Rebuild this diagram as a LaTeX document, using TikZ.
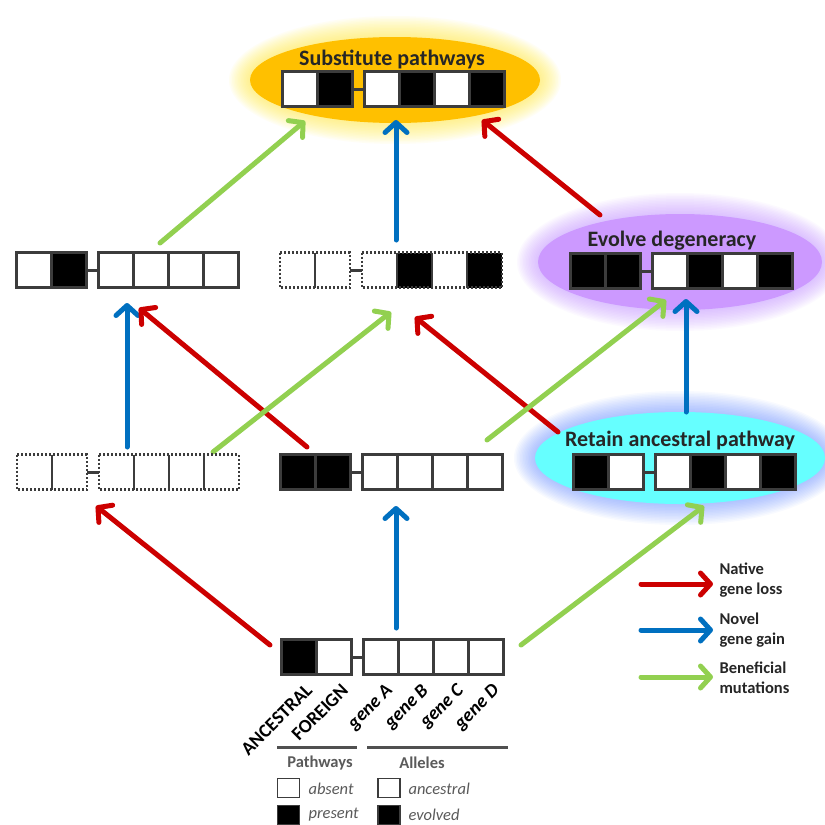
\documentclass[tikz,border=0pt]{standalone}
\usepackage{fontspec}
\setmainfont{Carlito}
\usetikzlibrary{arrows.meta,shapes.geometric}
\definecolor{boxgray}{RGB}{60,60,60}
\definecolor{redA}{RGB}{204,0,0}
\definecolor{blueA}{RGB}{0,112,192}
\definecolor{greenA}{RGB}{146,208,80}
\definecolor{orangeE}{RGB}{255,192,0}
\definecolor{glowY}{RGB}{255,240,80}
\definecolor{purpleE}{RGB}{204,153,255}
\definecolor{glowP}{RGB}{200,150,255}
\definecolor{cyanE}{RGB}{102,255,255}
\definecolor{glowB}{RGB}{100,140,255}
\definecolor{legtext}{RGB}{90,90,90}
\newcommand{\pwsolid}[4]{%
  \foreach \f [count=\i] in {#4}{%
    \pgfmathsetmacro{\cx}{#2+17.5+35*(\i-1)+12*(\i>2)}%
    \node[cell,draw=boxgray,fill=\f] (#1\i) at (\cx,#3) {};
  }
  \draw[link] (#12.east) -- (#13.west);
}
\newcommand{\pwdotted}[4]{%
  \foreach \f [count=\i] in {#4}{%
    \pgfmathsetmacro{\cx}{#2+17.5+35*(\i-1)+12*(\i>2)}%
    \node[cell,fill=\f] (#1\i) at (\cx,#3) {};
  }
  \draw[dotl] (#11.north west) rectangle (#12.south east);
  \draw[dotl] (#13.north west) rectangle (#16.south east);
  \foreach \j in {1,3,4,5} \draw[divl] (#1\j.north east) -- (#1\j.south east);
  \draw[link] (#12.east) -- (#13.west);
}
\newcommand{\glowell}[6]{%
  \foreach \k in {1,...,14}{%
    \fill[#5,opacity=#6] (#1,#2) ellipse ({#3+1.5*\k} and {#4+1.5*\k});
  }
}
\begin{document}
\begin{tikzpicture}[x=1pt,y=-1pt,
  cell/.style={minimum size=35pt,inner sep=0pt,outer sep=0pt,line width=3pt},
  link/.style={line width=3pt,draw=boxgray},
  dotl/.style={line width=2.5pt,draw=boxgray,dash pattern=on 2pt off 2pt},
  divl/.style={line width=2.5pt,draw=boxgray},
  arr/.style={line width=5pt,line cap=round,-{Straight Barb[length=10pt,width=22pt,round]}},
  ell/.style={ellipse,draw=none,inner sep=0pt},
  etitle/.style={font=\fontsize{22}{24}\selectfont\bfseries,text=black!85},
  rlab/.style={rotate=45,anchor=north east,inner sep=0pt,font=\fontsize{19}{22}\selectfont\bfseries},
  rlabi/.style={rlab,font=\fontsize{19}{22}\selectfont\bfseries\itshape},
  leg/.style={anchor=west,align=left,font=\fontsize{16.5}{20}\selectfont\bfseries,text=black!85},
  lsq/.style={minimum width=22pt,minimum height=19pt,inner sep=0pt,draw=boxgray,line width=1.5pt},
  ltext/.style={anchor=west,font=\fontsize{16.5}{19}\selectfont\itshape,text=legtext}
]
\useasboundingbox (0,0) rectangle (825,825);
\fill[white] (0,0) rectangle (825,825);

% glows and ellipses
\glowell{395}{80}{145}{43}{glowY}{0.06}
\glowell{680}{262}{142}{48}{glowP}{0.05}
\glowell{680}{458}{145}{46}{glowB}{0.045}
\node[ell,fill=orangeE,minimum width=290pt,minimum height=86pt] (sub) at (395,80) {};
\node[ell,fill=purpleE,minimum width=284pt,minimum height=96pt] (evo) at (680,262) {};
\node[ell,fill=cyanE,minimum width=290pt,minimum height=92pt] (ret) at (680,458) {};

% arrow end points
\coordinate (a1s) at (270,645); \coordinate (a1e) at (96,506);
\coordinate (a2s) at (396,628); \coordinate (a2e) at (396,506);
\coordinate (a3s) at (521,645); \coordinate (a3e) at (704,506);
\coordinate (a4s) at (127,447); \coordinate (a4e) at (127,303);
\coordinate (a5s) at (307,447); \coordinate (a5e) at (139,308);
\coordinate (a6s) at (213,452); \coordinate (a6e) at (391,312);
\coordinate (a7s) at (558,432); \coordinate (a7e) at (415,317);
\coordinate (a8s) at (487,440); \coordinate (a8e) at (666,300);
\coordinate (a9s) at (686,412); \coordinate (a9e) at (686,299);
\coordinate (a10s) at (160,243); \coordinate (a10e) at (305,121);
\coordinate (a11s) at (396,240); \coordinate (a11e) at (396,120);
\coordinate (a12s) at (600,215); \coordinate (a12e) at (482,120);

\draw[arr,redA] (a1s) -- (a1e);
\draw[arr,blueA] (a2s) -- (a2e);
\draw[arr,greenA] (a3s) -- (a3e);
\draw[arr,blueA] (a4s) -- (a4e);
\draw[arr,redA] (a5s) -- (a5e);
\draw[arr,greenA] (a6s) -- (a6e);
\draw[arr,redA] (a7s) -- (a7e);
\draw[arr,greenA] (a8s) -- (a8e);
\draw[arr,blueA] (a9s) -- (a9e);
\draw[arr,greenA] (a10s) -- (a10e);
\draw[arr,blueA] (a11s) -- (a11e);
\draw[arr,redA] (a12s) -- (a12e);

% ellipse titles
\node[etitle] (subT) at (392,59) {Substitute pathways};
\node[etitle] (evoT) at (672,241) {Evolve degeneracy};
\node[etitle] (retT) at (680,441) {Retain ancestral pathway};

% pathway rows
\pwsolid{s}{282}{89}{white,black,white,black,white,black}
\pwsolid{p}{16}{270}{white,black,white,white,white,white}
\pwdotted{q}{280}{270}{white,white,white,black,white,black}
\pwsolid{e}{570}{271}{black,black,white,black,white,black}
\pwdotted{u}{17}{472}{white,white,white,white,white,white}
\pwsolid{m}{280}{472}{black,black,white,white,white,white}
\pwsolid{r}{573}{472}{black,white,white,black,white,black}
\pwsolid{b}{281}{657}{black,white,white,white,white,white}

% rotated labels
\node[rlab] (lanc) at ([xshift=6pt,yshift=-8pt]b1.south) {ANCESTRAL};
\node[rlab] (lfor) at ([xshift=7pt,yshift=-8pt]b2.south) {FOREIGN};
\node[rlabi] (lga) at ([xshift=4pt,yshift=-8pt]b3.south) {gene A};
\node[rlabi] (lgb) at ([xshift=5pt,yshift=-8pt]b4.south) {gene B};
\node[rlabi] (lgc) at ([xshift=5pt,yshift=-8pt]b5.south) {gene C};
\node[rlabi] (lgd) at ([xshift=6pt,yshift=-8pt]b6.south) {gene D};

% bottom legend
\coordinate (pl1) at (277,747); \coordinate (pl2) at (357,747);
\coordinate (al1) at (367,747); \coordinate (al2) at (508,747);
\draw[line width=3pt,boxgray!90] (pl1) -- (pl2);
\draw[line width=3pt,boxgray!90] (al1) -- (al2);
\node[font=\fontsize{16.5}{19}\selectfont\bfseries,text=legtext] (pwt) at (320,763) {Pathways};
\node[font=\fontsize{16.5}{19}\selectfont\bfseries,text=legtext] (alt) at (422,763) {Alleles};
\node[lsq,fill=white] (sq1) at (288.5,788) {};
\node[lsq,fill=black] (sq2) at (288.5,815) {};
\node[lsq,fill=white] (sq3) at (389,788) {};
\node[lsq,fill=black] (sq4) at (389,815) {};
\node[ltext] (tabs) at (305,789) {absent};
\node[ltext] (tpre) at (305,815) {present};
\node[ltext] (tanc) at (405,789) {ancestral};
\node[ltext] (tevo) at (405,815) {evolved};

% right legend
\coordinate (lr1) at (641,584); \coordinate (lr2) at (713,584);
\coordinate (lb1) at (641,630); \coordinate (lb2) at (713,630);
\coordinate (lg1) at (641,677); \coordinate (lg2) at (713,677);
\draw[arr,redA] (lr1) -- (lr2);
\draw[arr,blueA] (lb1) -- (lb2);
\draw[arr,greenA] (lg1) -- (lg2);
\node[leg] (tnat) at (716,580) {Native\\gene loss};
\node[leg] (tnov) at (716,630) {Novel\\gene gain};
\node[leg] (tben) at (716,678) {Beneficial\\mutations};
\end{tikzpicture}
\end{document}
